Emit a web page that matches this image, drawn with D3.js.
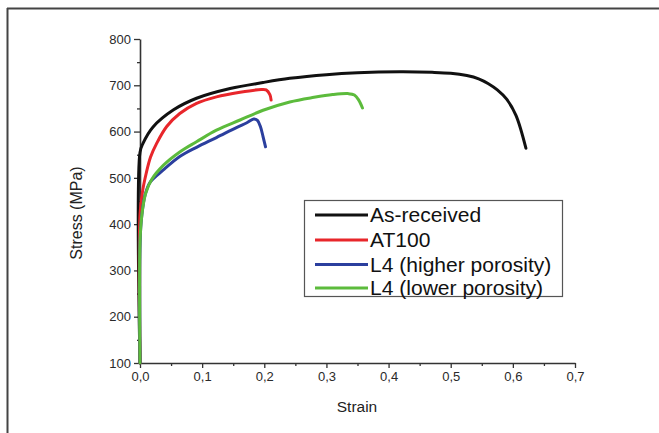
<!DOCTYPE html>
<html>
<head>
<meta charset="utf-8">
<script src="https://cdn.jsdelivr.net/npm/d3@7"></script>
<style>
  html, body { margin: 0; padding: 0; background: #fff; }
  svg { display: block; }
  text { font-family: "Liberation Sans", Arial, sans-serif; }
</style>
</head>
<body>
<svg id="chart" width="659" height="433"></svg>
<script>
// ---- data ----
const seriesNames = ["As-received", "AT100", "L4 (higher porosity)", "L4 (lower porosity)"];
const seriesColors = ["#111111", "#e8262b", "#2b3f9e", "#5cbb3c"];

const asReceivedStrain = [0, 0, 0.005, 0.021, 0.054, 0.091, 0.145, 0.198, 0.241, 0.3, 0.35, 0.418, 0.47, 0.5, 0.526, 0.545, 0.56, 0.575, 0.59, 0.605, 0.621];
const asReceivedStress = [100, 555, 575, 610, 647, 672, 693, 706, 715, 723, 727, 729, 728, 726, 721, 714, 704, 690, 670, 635, 564];

const at100Strain = [0, 0, 0.004, 0.01, 0.017, 0.027, 0.043, 0.064, 0.091, 0.123, 0.161, 0.195, 0.203, 0.209, 0.211];
const at100Stress = [100, 420, 470, 510, 545, 575, 611, 639, 661, 675, 685, 691, 690, 680, 668];

const l4HighStrain = [0, 0, 0.003, 0.008, 0.016, 0.0375, 0.064, 0.091, 0.123, 0.156, 0.172, 0.183, 0.189, 0.194, 0.198, 0.202];
const l4HighStress = [100, 360, 420, 462, 490, 517, 546, 566, 587, 609, 619, 627, 624, 610, 589, 567];

const l4LowStrain = [0, 0, 0.003, 0.009, 0.019, 0.0375, 0.064, 0.091, 0.123, 0.161, 0.198, 0.241, 0.28, 0.31, 0.335, 0.345, 0.352, 0.358];
const l4LowStress = [100, 360, 420, 466, 497, 527, 556, 578, 603, 625, 646, 664, 674, 680, 682, 679, 668, 651];

const xTicks = [0, 0.1, 0.2, 0.3, 0.4, 0.5, 0.6, 0.7];
const xTickLabels = ["0,0", "0,1", "0,2", "0,3", "0,4", "0,5", "0,6", "0,7"];
const xMinorTicks = [0.05, 0.15, 0.25, 0.35, 0.45, 0.55, 0.65];
const yTicks = [100, 200, 300, 400, 500, 600, 700, 800];
const yMinorTicks = [150, 250, 350, 450, 550, 650, 750];

const xTitle = "Strain";
const yTitle = "Stress (MPa)";

// ---- build ----
const series = [
  { strain: asReceivedStrain, stress: asReceivedStress },
  { strain: at100Strain, stress: at100Stress },
  { strain: l4HighStrain, stress: l4HighStress },
  { strain: l4LowStrain, stress: l4LowStress }
].map((s, i) => ({
  name: seriesNames[i],
  color: seriesColors[i],
  points: s.strain.map((v, j) => [v, s.stress[j]])
}));

const svg = d3.select("#chart");

// outer frame (top + left edges)
svg.append("line").attr("x1", 7).attr("x2", 659).attr("y1", 8.5).attr("y2", 8.5)
  .attr("stroke", "#444").attr("stroke-width", 2);
svg.append("line").attr("x1", 7.5).attr("x2", 7.5).attr("y1", 8).attr("y2", 433)
  .attr("stroke", "#444").attr("stroke-width", 2);

const x = d3.scaleLinear().domain([0, 0.7]).range([140, 575]);
const y = d3.scaleLinear().domain([100, 800]).range([363, 39]);

const axisColor = "#333";

// minor ticks
svg.append("g").attr("transform", `translate(0,${y(100)})`)
  .call(d3.axisBottom(x).tickValues(xMinorTicks).tickSize(3).tickFormat(""))
  .call(g => g.select(".domain").remove());
svg.append("g").attr("transform", `translate(${x(0)},0)`)
  .call(d3.axisLeft(y).tickValues(yMinorTicks).tickSize(3).tickFormat(""))
  .call(g => g.select(".domain").remove());

// major axes
svg.append("g").attr("transform", `translate(0,${y(100)})`)
  .call(d3.axisBottom(x).tickValues(xTicks).tickSize(5).tickSizeOuter(0).tickPadding(4)
    .tickFormat((d, i) => xTickLabels[i]));
svg.append("g").attr("transform", `translate(${x(0)},0)`)
  .call(d3.axisLeft(y).tickValues(yTicks).tickSize(6).tickSizeOuter(0).tickPadding(3)
    .tickFormat(d3.format("d")));

svg.selectAll(".tick line").attr("stroke", axisColor).attr("stroke-width", 1.3);
svg.selectAll(".domain").attr("stroke", axisColor).attr("stroke-width", 1.6);
svg.selectAll(".tick text").attr("fill", "#2a2a2a").style("font-size", "13px")
  .style("font-family", "'Liberation Sans', Arial, sans-serif");

// axis titles
svg.append("text").attr("x", 357).attr("y", 412).attr("text-anchor", "middle")
  .style("font-size", "15.5px").attr("fill", "#222").text(xTitle);
svg.append("text").attr("transform", "translate(82,213) rotate(-90)").attr("text-anchor", "middle")
  .style("font-size", "16px").attr("fill", "#222").text(yTitle);

// curves
const line = d3.line()
  .x(d => x(d[0]))
  .y(d => y(d[1]))
  .curve(d3.curveCatmullRom.alpha(0.5));

svg.append("g").selectAll("path").data(series).join("path")
  .attr("d", d => line(d.points))
  .attr("fill", "none")
  .attr("stroke", d => d.color)
  .attr("stroke-width", 3)
  .attr("stroke-linejoin", "round")
  .attr("stroke-linecap", "round");

// legend
const legend = svg.append("g");
legend.append("rect").attr("x", 304.5).attr("y", 200.5).attr("width", 258).attr("height", 96)
  .attr("fill", "#fff").attr("stroke", "#555").attr("stroke-width", 1.2);
const rowY = [215, 240, 264.5, 288];
const items = legend.selectAll("g.item").data(series).join("g").attr("class", "item");
items.append("line")
  .attr("x1", 315).attr("x2", 368)
  .attr("y1", (d, i) => rowY[i]).attr("y2", (d, i) => rowY[i])
  .attr("stroke", d => d.color).attr("stroke-width", 3);
items.append("text")
  .attr("transform", (d, i) => `translate(370,${rowY[i] + 7}) scale(1.08,1)`)
  .style("font-size", "19.5px").attr("fill", "#111")
  .text(d => d.name);
</script>
</body>
</html>
